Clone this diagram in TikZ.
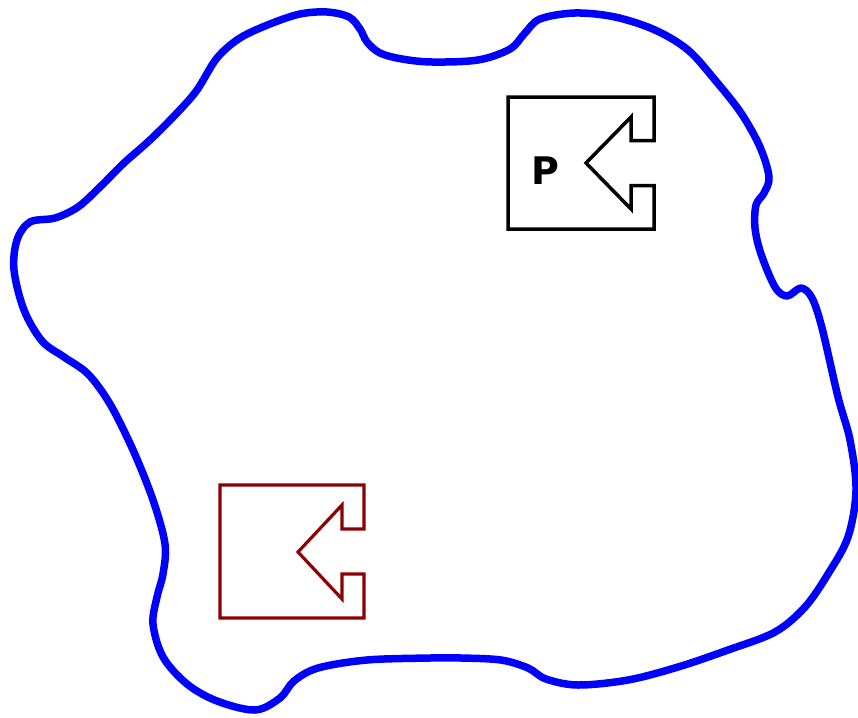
\documentclass[tikz,border=0pt]{standalone}
\usepackage{fontspec}
\setsansfont{DejaVu Sans}
\usepackage{xcolor}
\usepackage{tikz}
\definecolor{portred}{HTML}{8B0000}

\begin{document}
\begin{tikzpicture}[x=1pt,y=-1pt,
    region/.style={blue,line width=7.5pt,line join=round},
    portbox/.style={line width=3.5pt,line join=miter}]
  \useasboundingbox (0,0) rectangle (858,717);
  % boundary of the region
  \draw[region] plot[smooth cycle,tension=0.55] coordinates {
    (124,163) (150,140) (177,113) (197,90) (217,58) (240,38) (270,24)
    (300,14) (327,12) (349,17) (360,29) (367,42) (380,53) (402,59)
    (432,62) (478,60) (510,49) (525,33) (540,19) (575,13) (615,17)
    (655,30) (688,50) (715,80) (741,113) (760,147) (769,177) (764,193)
    (756,205) (755,228) (761,254) (775,287) (787,296) (801,288) (812,298)
    (822,328) (838,397) (850,440) (856,490) (848,537) (828,574) (805,607)
    (775,632) (728,650) (678,667) (628,680) (578,685) (546,679) (528,668)
    (501,660) (461,658) (430,658) (367,660) (318,668) (294,681) (280,698)
    (255,710) (217,701) (187,684) (163,657) (153,624) (157,597) (163,574)
    (165,544) (153,500) (133,450) (110,404) (88,374) (64,357) (42,341)
    (24,310) (14,270) (17,240) (30,222) (55,218) (78,207) (100,187)};
  % port P
  \draw[portbox,black,shift={(508,97)}]
    (0,0) -- (146,0) -- (146,43.5) -- (123,43.5) -- (123,20) -- (78,66)
    -- (123,112) -- (123,88.5) -- (146,88.5) -- (146,132) -- (0,132) -- cycle;
  \node[font=\sffamily\bfseries\fontsize{38}{40}\selectfont,inner sep=0pt]
    (pname) at (545,171) {P};
  % second port
  \draw[portbox,portred,line width=3.2pt,shift={(220,485)}]
    (0,0) -- (144,0) -- (144,44) -- (122,44) -- (122,20) -- (78,67)
    -- (122,114) -- (122,89) -- (144,89) -- (144,133) -- (0,133) -- cycle;
\end{tikzpicture}
\end{document}
